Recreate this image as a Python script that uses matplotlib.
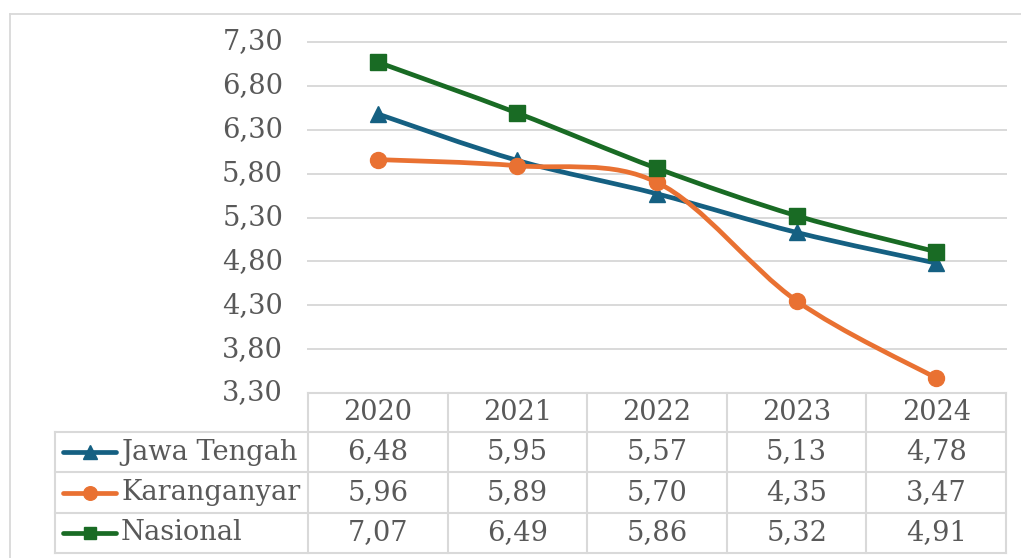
import matplotlib
matplotlib.use("Agg")
import matplotlib.pyplot as plt
from matplotlib.path import Path
from matplotlib.patches import PathPatch
from matplotlib.lines import Line2D
import numpy as np

years = ["2020", "2021", "2022", "2023", "2024"]
series_names = ["Jawa Tengah", "Karanganyar", "Nasional"]
jawa_tengah = [6.48, 5.95, 5.57, 5.13, 4.78]
karanganyar = [5.96, 5.89, 5.70, 4.35, 3.47]
nasional = [7.07, 6.49, 5.86, 5.32, 4.91]
y_ticks = [3.30, 3.80, 4.30, 4.80, 5.30, 5.80, 6.30, 6.80, 7.30]

values = [jawa_tengah, karanganyar, nasional]
colors = ["#156082", "#E97132", "#196B24"]
markers = ["^", "o", "s"]
msizes = [12, 11.5, 11]

W, H = 1021, 558
TXT = "#595959"
GRID = "#D9D9D9"
FONT = "DejaVu Serif"
FS = 19.6

fig = plt.figure(figsize=(W / 100, H / 100), dpi=100)
fig.patch.set_facecolor("white")


def fx(x):
    return x / W


def fy(y):
    return 1 - y / H


def fmt(v):
    return f"{v:.2f}".replace(".", ",")


L, R, T, B = 308, 1006, 42, 393
ax = fig.add_axes([fx(L), fy(B), fx(R) - fx(L), fy(T) - fy(B)])
ax.set_xlim(-0.5, len(years) - 0.5)
ax.set_ylim(min(y_ticks), max(y_ticks))
ax.set_yticks(y_ticks)
ax.set_yticklabels([fmt(v) for v in y_ticks], fontfamily=FONT, fontsize=FS, color=TXT)
ax.set_xticks([])
ax.tick_params(axis="y", length=0, pad=18)
for s in ax.spines.values():
    s.set_visible(False)
ax.grid(axis="y", color=GRID, lw=1.4)
for gl in ax.get_ygridlines():
    gl.set_clip_on(False)
ax.set_axisbelow(True)
for lbl in ax.get_yticklabels():
    lbl.set_verticalalignment("center")

xs = np.arange(len(years))


def smooth_path(x, y, t=1 / 6):
    pts = np.column_stack([x, y]).astype(float)
    n = len(pts)
    verts = [pts[0]]
    codes = [Path.MOVETO]
    for i in range(n - 1):
        p_prev = pts[i - 1] if i > 0 else pts[i]
        p_next2 = pts[i + 2] if i + 2 < n else pts[i + 1]
        c1 = pts[i] + (pts[i + 1] - p_prev) * t
        c2 = pts[i + 1] - (p_next2 - pts[i]) * t
        verts += [c1, c2, pts[i + 1]]
        codes += [Path.CURVE4] * 3
    return Path(verts, codes)


for vals, c, m, ms in zip(values, colors, markers, msizes):
    patch = PathPatch(smooth_path(xs, vals), facecolor="none", edgecolor=c,
                      lw=3.4, capstyle="round", joinstyle="round", zorder=3)
    ax.add_patch(patch)
    ax.plot(xs, vals, linestyle="none", marker=m, ms=ms, color=c, zorder=4,
            clip_on=False)

# outer chart border
fig.add_artist(Line2D([fx(10), fx(10)], [fy(14), fy(558)], color=GRID, lw=1.3))
fig.add_artist(Line2D([fx(10), fx(1021)], [fy(14), fy(14)], color=GRID, lw=1.3))

# data table
col_edges = [L + (R - L) * i / len(years) for i in range(len(years) + 1)]
row_edges = [393, 432, 472, 513, 553]
LEG_L = 55
tl = dict(color=GRID, lw=1.5)
fig.add_artist(Line2D([fx(L), fx(R)], [fy(row_edges[0])] * 2, **tl))
for ry in row_edges[1:]:
    fig.add_artist(Line2D([fx(LEG_L), fx(R)], [fy(ry)] * 2, **tl))
fig.add_artist(Line2D([fx(LEG_L)] * 2, [fy(row_edges[1]), fy(row_edges[-1])], **tl))
for cx in col_edges:
    fig.add_artist(Line2D([fx(cx)] * 2, [fy(row_edges[0]), fy(row_edges[-1])], **tl))

hy = (row_edges[0] + row_edges[1]) / 2
for j, yr in enumerate(years):
    cx = (col_edges[j] + col_edges[j + 1]) / 2
    fig.text(fx(cx), fy(hy), yr, ha="center", va="center", fontfamily=FONT,
             fontsize=FS, color=TXT)

for i, (name, vals, c, m, ms) in enumerate(zip(series_names, values, colors, markers, msizes)):
    ry = (row_edges[i + 1] + row_edges[i + 2]) / 2
    fig.add_artist(Line2D([fx(63), fx(116)], [fy(ry)] * 2, color=c, lw=3.4,
                          solid_capstyle="round"))
    fig.add_artist(Line2D([fx(89.5)], [fy(ry)], color=c, marker=m, ms=ms * 0.85,
                          linestyle="none"))
    fig.text(fx(121), fy(ry), name, ha="left", va="center", fontfamily=FONT,
             fontsize=FS, color=TXT)
    for j, v in enumerate(vals):
        cx = (col_edges[j] + col_edges[j + 1]) / 2
        fig.text(fx(cx), fy(ry), fmt(v), ha="center", va="center", fontfamily=FONT,
                 fontsize=FS, color=TXT)

fig.savefig("out.png", dpi=100, facecolor="white")
